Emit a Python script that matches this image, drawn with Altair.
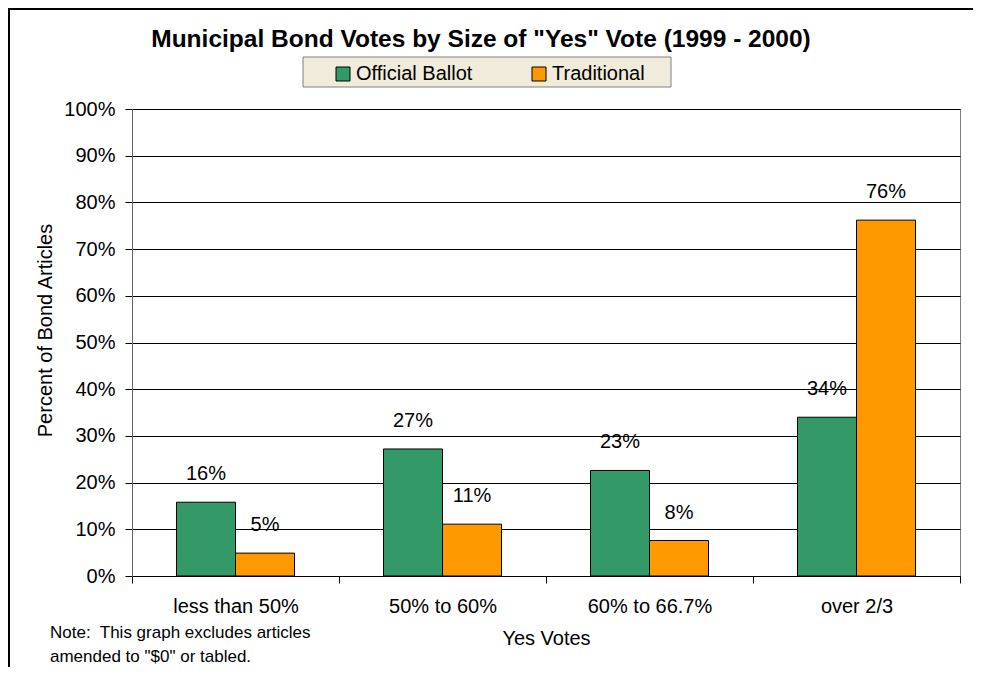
import altair as alt
import pandas as pd

categories = ["less than 50%", "50% to 60%", "60% to 66.7%", "over 2/3"]
series = ["Official Ballot", "Traditional"]
official = [15.8, 27.2, 22.6, 34.0]
traditional = [4.9, 11.1, 7.6, 76.2]
colors = ["#339966", "#FF9900"]
y_ticks = list(range(0, 101, 10))
title_text = 'Municipal Bond Votes by Size of "Yes" Vote (1999 - 2000)'
note_lines = ["Note:\u00a0 This graph excludes articles", 'amended to "$0" or tabled.']

FONT = "Liberation Sans, Arial, Helvetica, sans-serif"
FS = 20

rows = []
for i, c in enumerate(categories):
    rows.append({"cat": c, "series": series[0], "value": official[i]})
    rows.append({"cat": c, "series": series[1], "value": traditional[i]})
df = pd.DataFrame(rows)
df["label"] = df["value"].round().astype(int).astype(str) + "%"

W, H = 828, 467

base = alt.Chart(df).encode(
    x=alt.X(
        "cat:N",
        sort=categories,
        scale=alt.Scale(paddingInner=0, paddingOuter=0),
        axis=alt.Axis(
            title="Yes Votes",
            labelAngle=0,
            tickBand="extent",
            tickSize=7,
            tickColor="black",
            domainColor="black",
            labelPadding=13,
            labelFontSize=FS,
            labelColor="black",
            titleFontSize=FS,
            titleFontWeight="normal",
            titleColor="black",
            titleY=62,
            titleBaseline="middle",
            grid=False,
        ),
    ),
    xOffset=alt.XOffset(
        "series:N", sort=series, scale=alt.Scale(paddingInner=0, paddingOuter=0.754)
    ),
    y=alt.Y(
        "value:Q",
        scale=alt.Scale(domain=[0, 100], nice=False),
        axis=alt.Axis(
            values=y_ticks,
            labelExpr="datum.value + '%'",
            tickSize=7,
            tickColor="black",
            domainColor="#666666",
            labelPadding=10,
            labelFontSize=FS,
            labelColor="black",
            grid=True,
            gridColor="black",
            gridWidth=1,
            title="Percent of Bond Articles",
            titleFontSize=FS,
            titleFontWeight="normal",
            titleColor="black",
            titleX=-87,
            titleY=221,
            titleAngle=270,
            titleAlign="center",
            titleBaseline="middle",
        ),
    ),
)

bars = base.mark_bar(stroke="black", strokeWidth=1, opacity=1).encode(
    color=alt.Color(
        "series:N",
        sort=series,
        scale=alt.Scale(domain=series, range=colors),
        legend=alt.Legend(
            title=None,
            orient="none",
            direction="horizontal",
            legendX=201,
            legendY=-45,
            padding=0,
            symbolType="square",
            symbolSize=196,
            symbolStrokeColor="black",
            symbolStrokeWidth=1,
            symbolOpacity=1,
            labelFontSize=FS,
            labelColor="black",
            labelOffset=3,
            columnPadding=56,
        ),
    )
)

labels = base.mark_text(fontSize=FS, dy=-28, baseline="middle", color="black").encode(
    text="label:N"
)

one = pd.DataFrame({"a": [0]})

legend_bg = alt.Chart(one).mark_rect(fill="#F0EBDA", stroke="#808080", strokeWidth=1).encode(
    x=alt.value(171), x2=alt.value(539), y=alt.value(-52), y2=alt.value(-22)
)

title = alt.Chart(pd.DataFrame({"t": [title_text]})).mark_text(
    fontSize=24.5, fontWeight="bold", align="center", baseline="middle", color="black"
).encode(x=alt.value(349), y=alt.value(-69), text="t:N")

note1 = alt.Chart(pd.DataFrame({"t": [note_lines[0]]})).mark_text(
    fontSize=17, align="left", baseline="middle", color="black"
).encode(x=alt.value(-82), y=alt.value(633 - 109), text="t:N")

note2 = alt.Chart(pd.DataFrame({"t": [note_lines[1]]})).mark_text(
    fontSize=17, align="left", baseline="middle", color="black"
).encode(x=alt.value(-82), y=alt.value(657 - 109), text="t:N")

frame_left = alt.Chart(one).mark_rule(color="black", strokeWidth=2).encode(
    x=alt.value(-123), y=alt.value(-101), y2=alt.value(H + 91)
)
frame_top = alt.Chart(one).mark_rule(color="black", strokeWidth=2).encode(
    y=alt.value(-100), x=alt.value(-124), x2=alt.value(W + 13)
)

chart = (
    alt.layer(legend_bg, bars, labels, title, note1, note2, frame_left, frame_top)
    .properties(
        width=W,
        height=H,
        autosize=alt.AutoSizeParams(type="none"),
        padding={"left": 124, "top": 101, "right": 13, "bottom": 91},
        background="white",
    )
    .configure(font=FONT)
    .configure_view(stroke="#808080", strokeWidth=1)
)

chart.save("out.html", embed_options={"renderer": "svg", "actions": False})
